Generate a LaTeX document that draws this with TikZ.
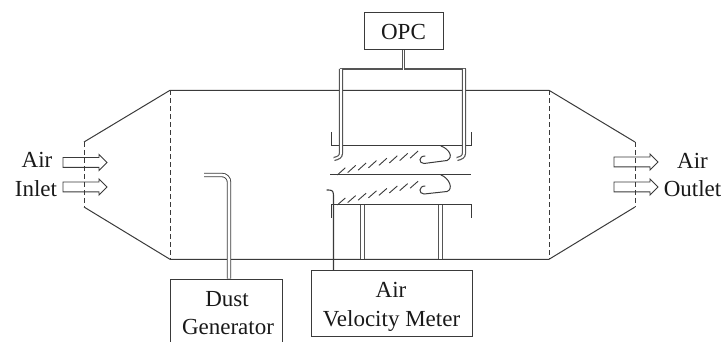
\documentclass[tikz,border=0pt]{standalone}
\usepackage{fontspec}
\setmainfont{Liberation Serif}
\usetikzlibrary{shapes.arrows}
\definecolor{ink}{HTML}{3A3A3A}
\definecolor{tubeink}{HTML}{555555}
\tikzset{
  every node/.style={font=\fontsize{23}{27}\selectfont, text=black!90},
  wall/.style={draw=ink, line width=1pt},
  dashwall/.style={draw=ink, line width=1pt, dash pattern=on 5pt off 3pt},
  box/.style={draw=ink, line width=1pt, align=center, inner sep=0pt},
  label/.style={anchor=base, inner sep=0pt, align=center},
  tube/.style={draw=tubeink, line width=1.1pt, double=white, double distance=0.8pt, line join=round},
  sidetube/.style={draw=tubeink, line width=1.2pt, double=white, double distance=1.8pt},
  dusttube/.style={draw=ink, line width=0.9pt, double=white, double distance=2.6pt, rounded corners=7pt},
  flow/.style={draw=ink, line width=0.9pt, single arrow, single arrow head extend=3pt, single arrow head indent=0pt, inner ysep=4.5pt, inner xsep=0pt, minimum height=44pt},
  thin/.style={draw=ink, line width=1pt, line cap=round},
  hatchline/.style={draw=ink, line width=0.9pt},
}
\begin{document}
\begin{tikzpicture}[x=1pt,y=-1pt]
\clip (0,0) rectangle (721,342);
\useasboundingbox (0,0) rectangle (721,342);
% duct
\coordinate (tl) at (170,90.3); \coordinate (tr) at (549,90.3);
\coordinate (bl) at (170,259.3); \coordinate (br) at (549,259.3);
\coordinate (il) at (84,142); \coordinate (ib) at (84,207);
\coordinate (ol) at (635,142); \coordinate (ob) at (635,207);
\draw[wall] (il) -- (tl) -- (tr) -- (ol);
\draw[wall] (ib) -- (bl) -- (br) -- (ob);
\draw[dashwall] (il) -- (ib);
\draw[dashwall] (tl) -- (bl);
\draw[dashwall] (tr) -- (br);
\draw[dashwall] (ol) -- (ob);
% boxes
\node[box, minimum width=79pt, minimum height=37pt] (opc) at (403.5,31.5) {OPC};
\node[box, minimum width=112pt, minimum height=72pt] (dust) at (226,315) {};
\node[label] (dust1) at (227,306.5) {Dust};
\node[label] (dust2) at (228,334) {Generator};
\node[box, minimum width=161pt, minimum height=66pt] (avm) at (391.5,303) {};
\node[label] (air3) at (391,298) {Air};
\node[label] (vel) at (391.5,326) {Velocity Meter};
% plates
\coordinate (p1a) at (331,132); \coordinate (p1b) at (331,146); \coordinate (p1c) at (471,146); \coordinate (p1d) at (471,132);
\coordinate (p2a) at (330,175); \coordinate (p2b) at (471,175);
\coordinate (p3a) at (331,218); \coordinate (p3b) at (331,205); \coordinate (p3c) at (471,205); \coordinate (p3d) at (471,218);
\draw[wall] (p1a) -- (p1b) -- (p1c) -- (p1d);
\draw[wall] (p2a) -- (p2b);
\draw[wall] (p3a) -- (p3b) -- (p3c) -- (p3d);
% hatching
\foreach \i in {0,...,7} {
  \draw[hatchline] ({337.3+10.4*\i},{175-2.4*\i}) -- ++(8,-7.2);
  \draw[hatchline] ({337.3+10.4*\i},{205-2.4*\i}) -- ++(8,-7);
}
% curved electrodes
\draw[thin] (441,146) .. controls (449,149) and (454,157) .. (447,160.5) -- (424,163.5) .. controls (418.5,163.5) and (418.5,156) .. (425,156);
\draw[thin] (441,175) .. controls (449,178) and (454,189) .. (447,191.5) -- (424,194) .. controls (418.5,194) and (418.5,186) .. (425,186);
% OPC tubing
\coordinate (ot) at (opc.south);
\coordinate (oj) at (403.5,70);
\draw[tube] (339.5,70) -- (466,70);
\draw[tube] (ot) -- (oj);
\draw[sidetube] (341,69) -- (341,153) .. controls (341,157) and (338,158) .. (334,159);
\draw[sidetube] (464,69) -- (464,153) .. controls (464,157) and (461,158) .. (457,159);
% air velocity meter probe
\coordinate (pr) at (327,190);
\draw[thin, line width=1.1pt] (pr) .. controls (331,190) and (333.5,190) .. (333.5,195) -- (333.5,270);
% lower tubes
\coordinate (t1a) at (362,205); \coordinate (t1b) at (362,259);
\coordinate (t2a) at (440,205); \coordinate (t2b) at (440,259);
\draw[sidetube, line width=1pt, double distance=3pt] (t1a) -- (t1b);
\draw[sidetube, line width=1pt, double distance=3pt] (t2a) -- (t2b);
% dust tube
\coordinate (da) at (204,175);
\coordinate (dj) at (229,175);
\draw[dusttube] (da) -- (dj) -- (dj |- dust.north);
% arrows
\node[flow] (ain1) at (82.5,162.5) {};
\node[flow] (ain2) at (82.5,187) {};
\node[flow] (aout1) at (633.5,162) {};
\node[flow] (aout2) at (633.5,187) {};
% labels
\node[label] (air1) at (37,168) {Air};
\node[label] (inlet) at (36,197) {Inlet};
\node[label] (air2) at (692.5,169) {Air};
\node[label] (outlet) at (692.5,197) {Outlet};
\end{tikzpicture}
\end{document}
